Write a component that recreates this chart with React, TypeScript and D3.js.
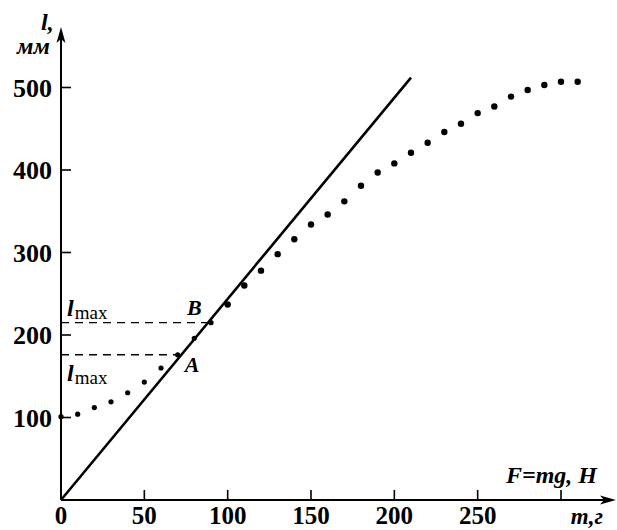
import React, { Component } from "react";
import * as d3 from "d3";

// mass m, g (measured points)
const massValues = [
  0, 10, 20, 30, 40, 50, 60, 70, 80, 90, 100, 110, 120, 130, 140, 150, 160,
  170, 180, 190, 200, 210, 220, 230, 240, 250, 260, 270, 280, 290, 300, 310,
];
// elongation l, mm
const lengthValues = [
  101, 104, 112, 119, 130, 143, 160, 176, 196, 215, 237, 260, 278, 298, 316,
  334, 346, 362, 381, 397, 408, 421, 433, 446, 456, 469, 477, 489, 497, 503,
  507, 507,
];
// straight (Hooke) line end points
const lineMass = [0, 210];
const lineLength = [0, 512];

const xTicks = [0, 50, 100, 150, 200, 250, 300];
const xTickLabels = ["0", "50", "100", "150", "200", "250", ""];
const yTicks = [100, 200, 300, 400, 500];

// points A and B (l_max levels)
const pointA = { m: 70, l: 176, name: "A" };
const pointB = { m: 90, l: 215, name: "B" };

const FONT = "'Liberation Serif', 'DejaVu Serif', serif";

class App extends Component {
  svgRef = React.createRef<SVGSVGElement>();

  componentDidMount() {
    this.drawChart();
  }

  drawChart() {
    const width = 617;
    const height = 530;

    const svg = d3
      .select(this.svgRef.current)
      .attr("width", width)
      .attr("height", height);
    svg.selectAll("*").remove();

    const xScale = d3.scaleLinear().domain([0, 300]).range([61, 561]);
    const yScale = d3.scaleLinear().domain([0, 500]).range([500, 87.5]);

    const x0 = xScale(0);
    const y0 = yScale(0);

    // axes
    svg
      .append("line")
      .attr("x1", x0)
      .attr("y1", y0)
      .attr("x2", 606)
      .attr("y2", y0)
      .attr("stroke", "#000")
      .attr("stroke-width", 2);
    svg
      .append("path")
      .attr("d", `M616,${y0} L600,${y0 - 4.5} L604,${y0} L600,${y0 + 4.5} Z`)
      .attr("fill", "#000");

    svg
      .append("line")
      .attr("x1", x0)
      .attr("y1", y0)
      .attr("x2", x0)
      .attr("y2", 38)
      .attr("stroke", "#000")
      .attr("stroke-width", 2);
    svg
      .append("path")
      .attr("d", `M${x0},27 L${x0 - 4.5},43 L${x0},39 L${x0 + 4.5},43 Z`)
      .attr("fill", "#000");

    // x ticks (pointing up)
    svg
      .selectAll(".xtick")
      .data(xTicks.slice(1))
      .enter()
      .append("line")
      .attr("class", "xtick")
      .attr("x1", (d) => xScale(d))
      .attr("x2", (d) => xScale(d))
      .attr("y1", y0)
      .attr("y2", y0 - 10)
      .attr("stroke", "#000")
      .attr("stroke-width", 1.6);

    svg
      .selectAll(".xlabel")
      .data(xTicks)
      .enter()
      .append("text")
      .attr("class", "xlabel")
      .attr("x", (d) => xScale(d))
      .attr("y", 524)
      .attr("text-anchor", "middle")
      .attr("font-family", FONT)
      .attr("font-weight", "bold")
      .attr("font-size", 25)
      .text((d, i) => xTickLabels[i]);

    // y ticks (pointing right)
    svg
      .selectAll(".ytick")
      .data(yTicks)
      .enter()
      .append("line")
      .attr("class", "ytick")
      .attr("x1", x0)
      .attr("x2", x0 + 10)
      .attr("y1", (d) => yScale(d))
      .attr("y2", (d) => yScale(d))
      .attr("stroke", "#000")
      .attr("stroke-width", 1.6);

    svg
      .selectAll(".ylabel")
      .data(yTicks)
      .enter()
      .append("text")
      .attr("class", "ylabel")
      .attr("x", 52)
      .attr("y", (d) => yScale(d) + 9)
      .attr("text-anchor", "end")
      .attr("font-family", FONT)
      .attr("font-weight", "bold")
      .attr("font-size", 26)
      .text((d) => d);

    // axis titles
    svg
      .append("text")
      .attr("x", 41)
      .attr("y", 30)
      .attr("font-family", FONT)
      .attr("font-weight", "bold")
      .attr("font-style", "italic")
      .attr("font-size", 24)
      .text("l,");
    svg
      .append("text")
      .attr("x", 17)
      .attr("y", 54)
      .attr("font-family", FONT)
      .attr("font-weight", "bold")
      .attr("font-style", "italic")
      .attr("font-size", 24)
      .text("мм");

    svg
      .append("text")
      .attr("x", 597)
      .attr("y", 483)
      .attr("text-anchor", "end")
      .attr("font-family", FONT)
      .attr("font-weight", "bold")
      .attr("font-style", "italic")
      .attr("font-size", 24)
      .text("F=mg, H");
    svg
      .append("text")
      .attr("x", 603)
      .attr("y", 524)
      .attr("text-anchor", "end")
      .attr("font-family", FONT)
      .attr("font-weight", "bold")
      .attr("font-style", "italic")
      .attr("font-size", 23)
      .text("m,г");

    // dashed l_max guides
    svg
      .selectAll(".guide")
      .data([pointB, pointA])
      .enter()
      .append("line")
      .attr("class", "guide")
      .attr("x1", x0)
      .attr("x2", (d) => xScale(d.m))
      .attr("y1", (d) => yScale(d.l))
      .attr("y2", (d) => yScale(d.l))
      .attr("stroke", "#000")
      .attr("stroke-width", 1.4)
      .attr("stroke-dasharray", "8,6");

    // l_max labels
    const lmax = svg
      .selectAll(".lmax")
      .data([{ y: 316 }, { y: 381 }])
      .enter()
      .append("text")
      .attr("class", "lmax")
      .attr("x", 67)
      .attr("y", (d) => d.y)
      .attr("font-family", FONT)
      .attr("font-size", 24);
    lmax
      .append("tspan")
      .attr("font-style", "italic")
      .attr("font-weight", "bold")
      .text("l");
    lmax
      .append("tspan")
      .attr("font-size", 19)
      .attr("dy", 3)
      .attr("dx", 1)
      .text("max");

    // point names
    svg
      .selectAll(".pname")
      .data([
        { p: pointB, dx: -24, dy: -8 },
        { p: pointA, dx: 7, dy: 17 },
      ])
      .enter()
      .append("text")
      .attr("class", "pname")
      .attr("x", (d) => xScale(d.p.m) + d.dx)
      .attr("y", (d) => yScale(d.p.l) + d.dy)
      .attr("font-family", FONT)
      .attr("font-weight", "bold")
      .attr("font-style", "italic")
      .attr("font-size", 22)
      .text((d) => d.p.name);

    // straight line
    const line = d3
      .line<number>()
      .x((d) => xScale(d))
      .y((d, i) => yScale(lineLength[i]));
    svg
      .append("path")
      .attr("d", line(lineMass))
      .attr("fill", "none")
      .attr("stroke", "#000")
      .attr("stroke-width", 2.6);

    // measured points
    svg
      .selectAll(".pt")
      .data(massValues)
      .enter()
      .append("circle")
      .attr("class", "pt")
      .attr("cx", (d) => xScale(d))
      .attr("cy", (d, i) => yScale(lengthValues[i]))
      .attr("r", (d) => (d < 100 ? 2.6 : 3.2))
      .attr("fill", "#000");
  }

  render() {
    return (
      <svg
        ref={this.svgRef}
        style={{ position: "absolute", left: 0, top: 0, background: "#fff" }}
      ></svg>
    );
  }
}

export default App;
